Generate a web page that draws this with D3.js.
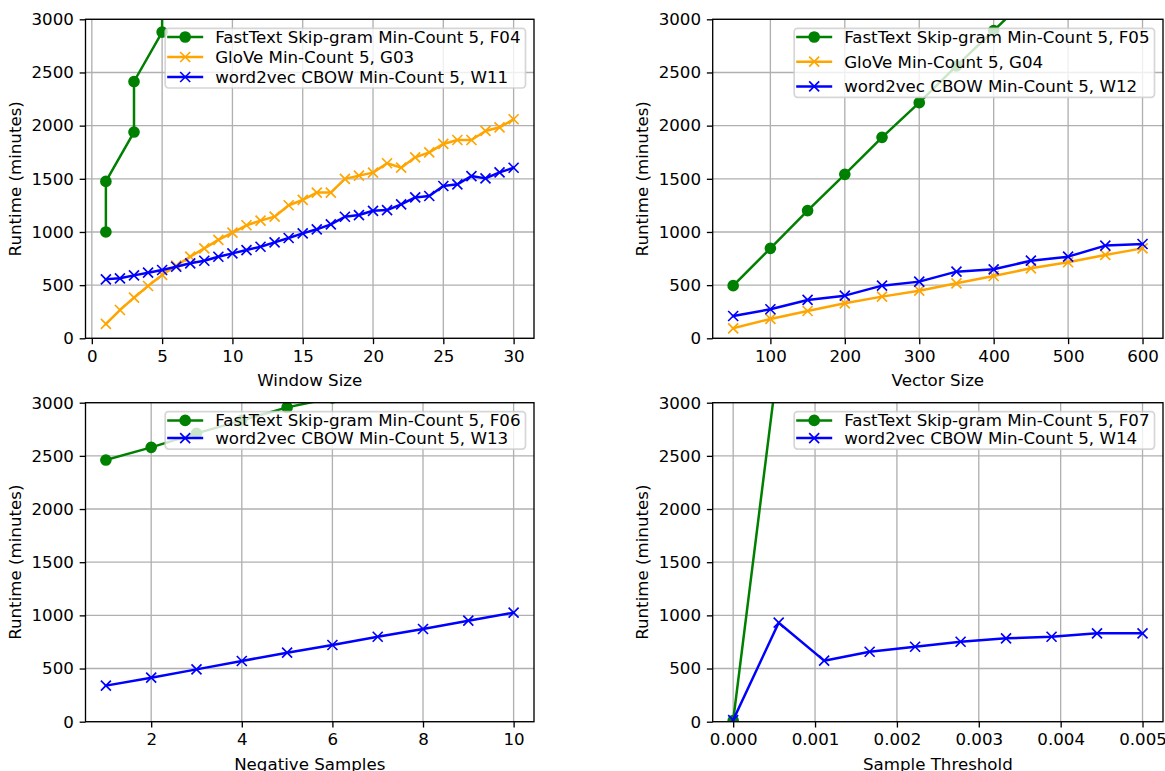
<!DOCTYPE html>
<html>
<head>
<meta charset="utf-8">
<script src="https://cdn.jsdelivr.net/npm/d3@7"></script>
<style>
  body { margin: 0; background: #fff; }
  svg { display: block; }
  text { font-family: "DejaVu Sans", sans-serif; fill: #000; }
</style>
</head>
<body>
<svg id="chart" width="1165" height="771"></svg>
<script>
// ---- Tick values ----
const runtimeTicks = [0, 500, 1000, 1500, 2000, 2500, 3000];
const windowTicks = [0, 5, 10, 15, 20, 25, 30];
const vectorTicks = [100, 200, 300, 400, 500, 600];
const negativeTicks = [2, 4, 6, 8, 10];
const thresholdTicks = [0, 0.001, 0.002, 0.003, 0.004, 0.005];

// ---- Window size sweep (minutes) ----
const windowSize = [1, 2, 3, 4, 5, 6, 7, 8, 9, 10, 11, 12, 13, 14, 15, 16, 17, 18, 19, 20, 21, 22, 23, 24, 25, 26, 27, 28, 29, 30];
const fastTextWindowX = [1, 1, 3, 3, 5, 5];
const fastTextWindow = [1000, 1475, 1940, 2415, 2880, 3350];
const gloveWindow = [135, 266, 382, 492, 596, 683, 768, 846, 925, 994, 1063, 1107, 1144, 1251, 1301, 1370, 1370, 1499, 1530, 1558, 1646, 1605, 1702, 1749, 1828, 1865, 1865, 1950, 1984, 2060];
const w2vWindow = [555, 564, 592, 617, 642, 673, 705, 729, 767, 799, 830, 861, 902, 943, 987, 1025, 1072, 1143, 1159, 1199, 1206, 1260, 1325, 1338, 1432, 1448, 1526, 1504, 1560, 1604];

// ---- Vector size sweep ----
const vectorSize = [50, 100, 150, 200, 250, 300, 350, 400, 450, 500, 550, 600];
const fastTextVectorX = [50, 100, 150, 200, 250, 300, 350, 400, 450];
const fastTextVector = [495, 846, 1201, 1542, 1890, 2216, 2561, 2894, 3230];
const gloveVector = [94, 182, 257, 329, 392, 448, 517, 586, 658, 715, 784, 846];
const w2vVector = [210, 273, 361, 401, 495, 533, 627, 649, 730, 768, 872, 887];

// ---- Negative samples sweep ----
const negativeSamples = [1, 2, 3, 4, 5, 6, 7, 8, 9, 10];
const fastTextNegX = [1, 2, 3, 4, 5, 6];
const fastTextNeg = [2461, 2580, 2712, 2834, 2956, 3045];
const w2vNeg = [339, 414, 492, 571, 649, 721, 799, 872, 950, 1025];

// ---- Sample threshold sweep ----
const sampleThreshold = [0, 0.000556, 0.001111, 0.001667, 0.002222, 0.002778, 0.003333, 0.003889, 0.004444, 0.005];
const fastTextSampleX = [0, 0.000556];
const fastTextSample = [10, 3430];
const w2vSample = [15, 931, 574, 658, 705, 752, 784, 799, 831, 831];

// ---- Styling ----
const FONT = 16.67;
const LINE_W = 2.5;
const MARK_R = 5;
const MARK_EDGE = 1.67;
const TICK_LEN = 5.83;
const TICK_PAD = 5.83;
const GRID_COLOR = "#b0b0b0";
const C_FAST = "green", C_GLOVE = "orange", C_W2V = "blue";

const zip = (xs, ys) => xs.map((x, i) => [x, ys[i]]);

const panels = [
  {
    box: { left: 85.5, right: 534, top: 19.3, bottom: 338.3 },
    xTicks: windowTicks, xFormat: d3.format("d"), xLabel: "Window Size", rowGap: 20,
    series: [
      { label: "FastText Skip-gram Min-Count 5, F04", color: C_FAST, marker: "o", pts: zip(fastTextWindowX, fastTextWindow) },
      { label: "GloVe Min-Count 5, G03", color: C_GLOVE, marker: "x", pts: zip(windowSize, gloveWindow) },
      { label: "word2vec CBOW Min-Count 5, W11", color: C_W2V, marker: "x", pts: zip(windowSize, w2vWindow) }
    ]
  },
  {
    box: { left: 712.7, right: 1163, top: 19.3, bottom: 338.3 },
    xTicks: vectorTicks, xFormat: d3.format("d"), xLabel: "Vector Size", rowGap: 24.7,
    series: [
      { label: "FastText Skip-gram Min-Count 5, F05", color: C_FAST, marker: "o", pts: zip(fastTextVectorX, fastTextVector) },
      { label: "GloVe Min-Count 5, G04", color: C_GLOVE, marker: "x", pts: zip(vectorSize, gloveVector) },
      { label: "word2vec CBOW Min-Count 5, W12", color: C_W2V, marker: "x", pts: zip(vectorSize, w2vVector) }
    ]
  },
  {
    box: { left: 85.5, right: 534, top: 402.7, bottom: 721.7 },
    xTicks: negativeTicks, xFormat: d3.format("d"), xLabel: "Negative Samples", rowGap: 17.7,
    series: [
      { label: "FastText Skip-gram Min-Count 5, F06", color: C_FAST, marker: "o", pts: zip(fastTextNegX, fastTextNeg) },
      { label: "word2vec CBOW Min-Count 5, W13", color: C_W2V, marker: "x", pts: zip(negativeSamples, w2vNeg) }
    ]
  },
  {
    box: { left: 712.7, right: 1163, top: 402.7, bottom: 721.7 },
    xTicks: thresholdTicks, xFormat: d3.format(".3f"), xLabel: "Sample Threshold", rowGap: 17.7,
    series: [
      { label: "FastText Skip-gram Min-Count 5, F07", color: C_FAST, marker: "o", pts: zip(fastTextSampleX, fastTextSample) },
      { label: "word2vec CBOW Min-Count 5, W14", color: C_W2V, marker: "x", pts: zip(sampleThreshold, w2vSample) }
    ]
  }
];

const svg = d3.select("#chart");

function drawMarker(g, type, color, cx, cy) {
  if (type === "o") {
    g.append("circle").attr("cx", cx).attr("cy", cy).attr("r", MARK_R)
      .attr("fill", color).attr("stroke", color).attr("stroke-width", MARK_EDGE);
  } else {
    g.append("path")
      .attr("d", `M${cx - MARK_R},${cy - MARK_R}L${cx + MARK_R},${cy + MARK_R}M${cx - MARK_R},${cy + MARK_R}L${cx + MARK_R},${cy - MARK_R}`)
      .attr("stroke", color).attr("stroke-width", MARK_EDGE).attr("fill", "none");
  }
}

panels.forEach((p, idx) => {
  const b = p.box;
  // autoscale with 5% margins on x, like the plotting defaults
  const allX = p.series.flatMap(s => s.pts.map(d => d[0]));
  const [xmin, xmax] = d3.extent(allX);
  const m = (xmax - xmin) * 0.05;
  const x = d3.scaleLinear().domain([xmin - m, xmax + m]).range([b.left, b.right]);
  const y = d3.scaleLinear().domain([0, 3000]).range([b.bottom, b.top]);

  const g = svg.append("g");
  const clipId = "clip" + idx;
  g.append("clipPath").attr("id", clipId).append("rect")
    .attr("x", b.left).attr("y", b.top).attr("width", b.right - b.left).attr("height", b.bottom - b.top);

  // grid
  const grid = g.append("g").attr("stroke", GRID_COLOR).attr("stroke-width", 1.33);
  p.xTicks.forEach(t => grid.append("line").attr("x1", x(t)).attr("x2", x(t)).attr("y1", b.top).attr("y2", b.bottom));
  runtimeTicks.forEach(t => grid.append("line").attr("x1", b.left).attr("x2", b.right).attr("y1", y(t)).attr("y2", y(t)));

  // series
  const plot = g.append("g").attr("clip-path", `url(#${clipId})`);
  const line = d3.line().x(d => x(d[0])).y(d => y(d[1]));
  p.series.forEach(s => {
    const sg = plot.append("g");
    sg.append("path").attr("d", line(s.pts)).attr("fill", "none")
      .attr("stroke", s.color).attr("stroke-width", LINE_W)
      .attr("stroke-linejoin", "round").attr("stroke-linecap", "square");
    s.pts.forEach(d => drawMarker(sg, s.marker, s.color, x(d[0]), y(d[1])));
  });

  // axes
  const xAxis = d3.axisBottom(x).tickValues(p.xTicks).tickFormat(p.xFormat)
    .tickSize(TICK_LEN).tickPadding(TICK_PAD);
  const yAxis = d3.axisLeft(y).tickValues(runtimeTicks).tickFormat(d3.format("d"))
    .tickSize(TICK_LEN).tickPadding(TICK_PAD);
  const gx = g.append("g").attr("transform", `translate(0,${b.bottom})`).call(xAxis);
  const gy = g.append("g").attr("transform", `translate(${b.left},0)`).call(yAxis);
  [gx, gy].forEach(a => {
    a.select(".domain").remove();
    a.selectAll(".tick line").attr("stroke", "#000").attr("stroke-width", 1.33);
    a.selectAll(".tick text").attr("font-size", FONT).attr("fill", "#000")
      .style("font-family", "'DejaVu Sans', sans-serif");
  });

  // spines
  g.append("rect").attr("x", b.left).attr("y", b.top)
    .attr("width", b.right - b.left).attr("height", b.bottom - b.top)
    .attr("fill", "none").attr("stroke", "#000").attr("stroke-width", 1.33);

  // axis labels
  g.append("text").attr("x", (b.left + b.right) / 2).attr("y", b.bottom + 47.8)
    .attr("text-anchor", "middle").attr("font-size", FONT).text(p.xLabel);
  g.append("text")
    .attr("transform", `translate(${b.left - 64.7},${(b.top + b.bottom) / 2}) rotate(-90)`)
    .attr("text-anchor", "middle").attr("font-size", FONT).text("Runtime (minutes)");

  // legend
  const lg = g.append("g");
  const frame = lg.append("rect");
  const firstRow = b.top + 9 + 8.7;
  let maxW = 0;
  p.series.forEach((s, i) => {
    const ry = firstRow + i * p.rowGap;
    const t = lg.append("text").attr("y", ry + 6).attr("font-size", FONT).text(s.label);
    maxW = Math.max(maxW, t.node().getComputedTextLength());
  });
  const boxW = 50 + maxW + 5;
  const boxL = b.right - 8.5 - boxW;
  const boxT = b.top + 9;
  const boxH = (firstRow + (p.series.length - 1) * p.rowGap + 11) - boxT;
  frame.attr("x", boxL).attr("y", boxT).attr("width", boxW).attr("height", boxH)
    .attr("rx", 3.3).attr("fill", "#fff").attr("fill-opacity", 0.8)
    .attr("stroke", "#cccccc").attr("stroke-opacity", 0.8).attr("stroke-width", 1.67);
  lg.selectAll("text").attr("x", boxL + 50);
  p.series.forEach((s, i) => {
    const ry = firstRow + i * p.rowGap;
    lg.append("line").attr("x1", boxL + 2).attr("x2", boxL + 38).attr("y1", ry).attr("y2", ry)
      .attr("stroke", s.color).attr("stroke-width", LINE_W);
    drawMarker(lg, s.marker, s.color, boxL + 20, ry);
  });
});
</script>
</body>
</html>
